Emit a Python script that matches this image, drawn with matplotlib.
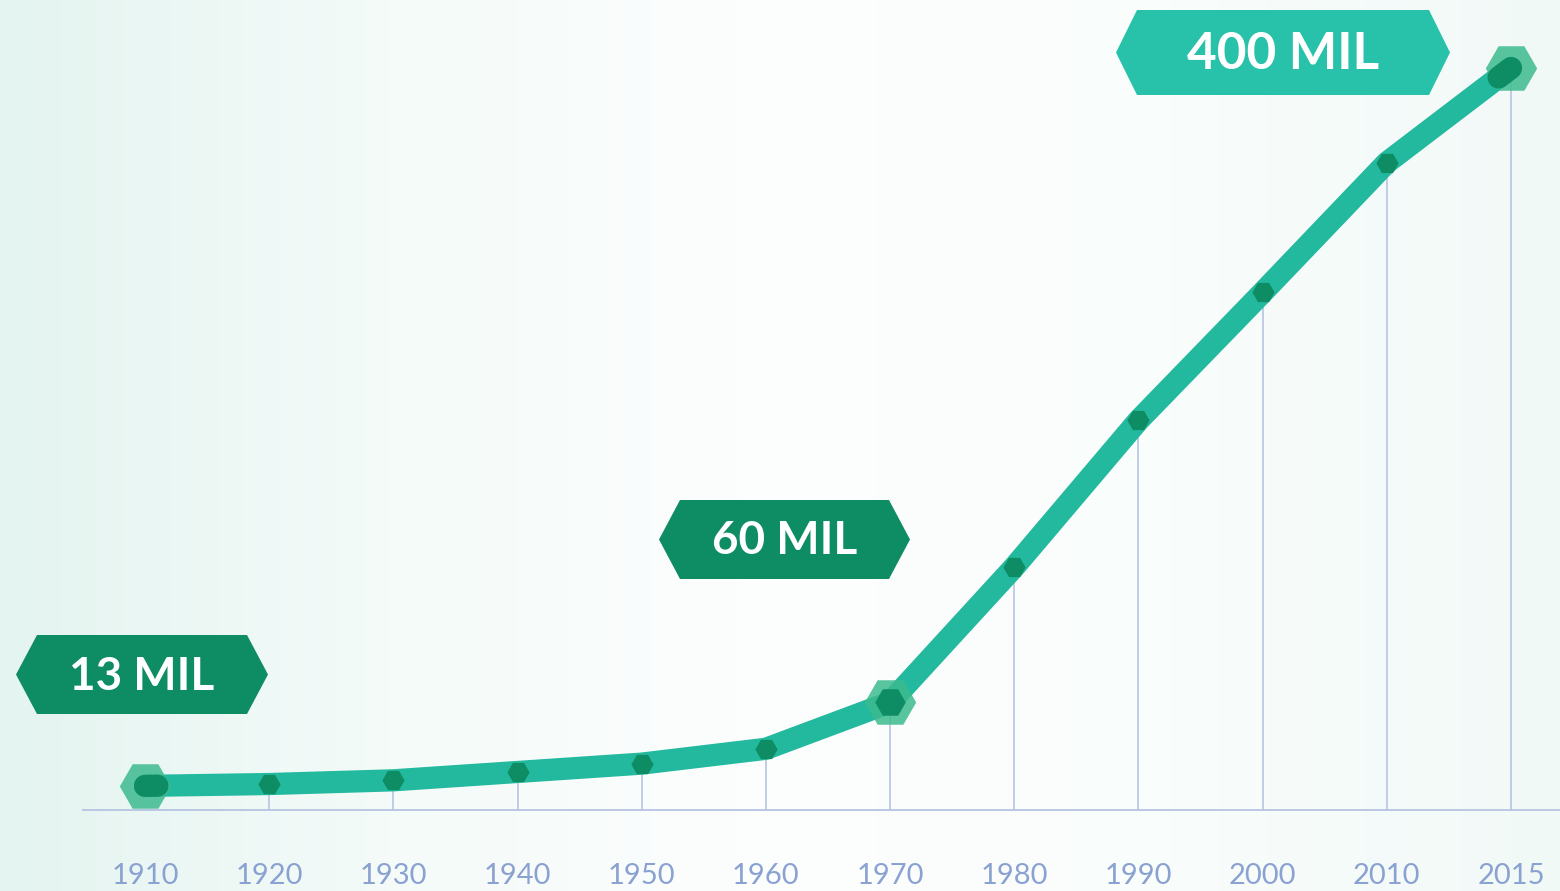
import numpy as np
import matplotlib
matplotlib.use("Agg")
import matplotlib.pyplot as plt
from matplotlib.patches import Polygon
from matplotlib.colors import LinearSegmentedColormap

years = ["1910", "1920", "1930", "1940", "1950", "1960", "1970",
         "1980", "1990", "2000", "2010", "2015"]
values = [13, 14, 16, 20.5, 25, 33, 58, 131, 210, 279, 349, 400]
highlight_idx = [0, 6, 11]
labels = ["13 MIL", "60 MIL", "400 MIL"]

W, H, DPI = 1560, 891, 100
fig = plt.figure(figsize=(W / DPI, H / DPI), dpi=DPI)

# background gradient
bg = fig.add_axes([0, 0, 1, 1], zorder=0)
bg.set_axis_off()
cmap = LinearSegmentedColormap.from_list(
    "bg", ["#e4f4f0", "#f4fbf9", "#fdfefe", "#f9fdfc", "#f1f9f7"])
grad = np.tile(np.linspace(0, 1, 256), (2, 1))
bg.imshow(grad, aspect="auto", cmap=cmap, extent=[0, 1, 0, 1])
bg.set_xlim(0, 1)
bg.set_ylim(0, 1)

ax = fig.add_axes([0, 0, 1, 1], zorder=1)
ax.patch.set_alpha(0)
ax.set_axis_off()
step = 124.2
ax.set_xlim(-145 / step, 11 + (W - 1511) / step)
ppu = 1.855
ax.set_ylim(-81 / ppu, (H - 81) / ppu)

x = np.arange(len(years))
grid_c = "#b7c4e2"
ax.plot([-0.5, ax.get_xlim()[1]], [0, 0], color=grid_c, lw=1.3, zorder=1)
for xi, v in zip(x[1:], values[1:]):
    ax.plot([xi, xi], [0, v], color=grid_c, lw=1.2, zorder=1)

ax.plot(x, values, color="#22b99e", lw=16, solid_joinstyle="round",
        solid_capstyle="round", zorder=3)
ax.plot(x[1:-1], values[1:-1], ls="none", marker="H", ms=16,
        color="#0e8c63", mec="none", zorder=4)
# highlight hexagons
ax.plot(x[highlight_idx], np.array(values)[highlight_idx], ls="none",
        marker="H", ms=37, color="#3dbb8f", alpha=0.85, mec="none", zorder=5)
ax.plot(x[6], values[6], ls="none", marker="H", ms=22,
        color="#0e8c63", mec="none", zorder=6)
for i, j in [(0, 1), (11, 10)]:
    xs = [x[i], x[i] + 0.1 * (x[j] - x[i])]
    ys = [values[i], values[i] + 0.1 * (values[j] - values[i])]
    ax.plot(xs, ys, color="#0e8c63", lw=16, solid_capstyle="round", zorder=6)

for xi, yr in zip(x, years):
    ax.text(xi, -35.5, yr, ha="center", va="center", fontsize=21,
            color="#8aa2d2", family="Lato", zorder=2)

# label boxes in pixel coordinates
ov = fig.add_axes([0, 0, 1, 1], zorder=2)
ov.patch.set_alpha(0)
ov.set_axis_off()
ov.set_xlim(0, W)
ov.set_ylim(H, 0)
boxes = [(16, 268, 635, 714, "#0e8c63", 33),
         (659, 910, 500, 579, "#0e8c63", 33),
         (1116, 1450, 10, 95, "#28c2aa", 37)]
for (x0, x1, y0, y1, c, fs), lab in zip(boxes, labels):
    cy = (y0 + y1) / 2
    d = 21
    poly = Polygon([(x0, cy), (x0 + d, y0), (x1 - d, y0), (x1, cy),
                    (x1 - d, y1), (x0 + d, y1)], closed=True,
                   facecolor=c, edgecolor="none")
    ov.add_patch(poly)
    ov.text((x0 + x1) / 2, cy + 2, lab, ha="center", va="center",
            fontsize=fs, color="white", family="Lato", weight="bold")

fig.savefig("out.png", dpi=DPI)
